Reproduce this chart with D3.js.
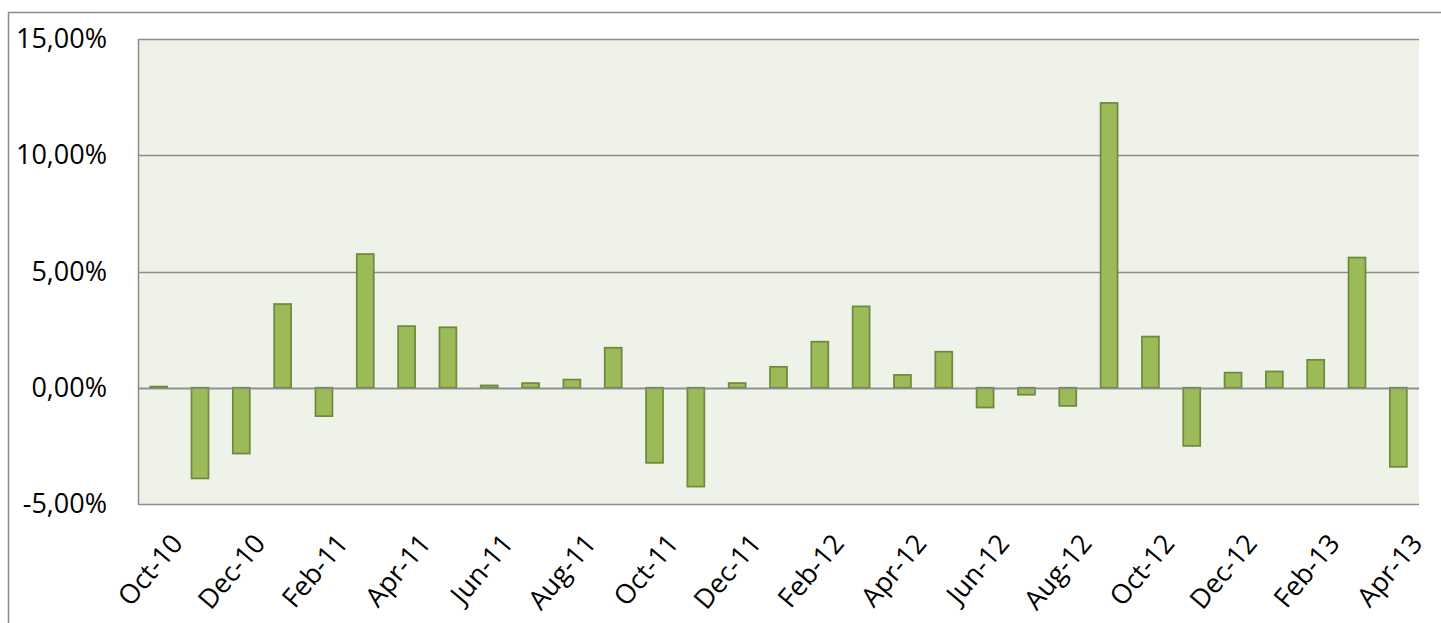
<!DOCTYPE html>
<html>
<head>
<meta charset="utf-8">
<script src="https://cdn.jsdelivr.net/npm/d3@7"></script>
<style>
  body { margin: 0; background: #fff; }
  text { font-family: "Open Sans", "Liberation Sans", sans-serif; fill: #000; }
</style>
</head>
<body>
<svg id="chartSVG"></svg>
<script>
// monthly returns, Oct-10 .. Apr-13
let months = ['Oct-10','Nov-10','Dec-10','Jan-11','Feb-11','Mar-11','Apr-11','May-11','Jun-11','Jul-11',
              'Aug-11','Sep-11','Oct-11','Nov-11','Dec-11','Jan-12','Feb-12','Mar-12','Apr-12','May-12',
              'Jun-12','Jul-12','Aug-12','Sep-12','Oct-12','Nov-12','Dec-12','Jan-13','Feb-13','Mar-13','Apr-13'];
let returns = [0.05, -3.9, -2.83, 3.6, -1.22, 5.75, 2.65, 2.6, 0.1, 0.2,
               0.35, 1.72, -3.23, -4.25, 0.2, 0.9, 1.98, 3.5, 0.55, 1.55,
               -0.85, -0.3, -0.78, 12.25, 2.2, -2.5, 0.65, 0.7, 1.2, 5.6, -3.4];
let yTicks = [-5, 0, 5, 10, 15];

let widthSVG = 1441;
let heightSVG = 623;
let margins = { top: 39, bottom: 119, right: 22, left: 138 };
let width = widthSVG - margins.left - margins.right;
let height = heightSVG - margins.top - margins.bottom;

let SVG = d3.select('svg#chartSVG')
            .attr('width', widthSVG)
            .attr('height', heightSVG);

// outer chart frame
SVG.append('rect')
   .attr('x', 8.5).attr('y', 12.5)
   .attr('width', 1460).attr('height', 700)
   .style('fill', 'none')
   .style('stroke', '#8c8c8c')
   .style('stroke-width', 1.5);

let SVGG = SVG.append('g')
              .attr('transform', `translate(${margins.left}, ${margins.top})`);

let x = d3.scaleBand().domain(months).range([0, width]).paddingInner(0.59).paddingOuter(0.295);
let y = d3.scaleLinear().domain([-5, 15]).range([height, 0]);

// plot background
SVGG.append('rect')
    .attr('width', width).attr('height', height)
    .style('fill', '#eff2e9');

// gridlines
SVGG.append('g')
    .selectAll('line')
    .data(yTicks)
    .enter()
    .append('line')
    .attr('x1', 0).attr('x2', width)
    .attr('y1', d => Math.round(y(d)) + 0.5)
    .attr('y2', d => Math.round(y(d)) + 0.5)
    .style('stroke', '#8c8c8c')
    .style('stroke-width', 1.5);

// left edge of plot
SVGG.append('line')
    .attr('x1', 0.5).attr('x2', 0.5)
    .attr('y1', 0).attr('y2', height)
    .style('stroke', '#8c8c8c')
    .style('stroke-width', 1.5);

// bars
SVGG.selectAll('rect.bar')
    .data(returns)
    .enter()
    .append('rect')
    .classed('bar', true)
    .attr('x', (d, i) => x(months[i]))
    .attr('width', x.bandwidth())
    .attr('y', d => y(Math.max(0, d)))
    .attr('height', d => Math.abs(y(d) - y(0)))
    .style('fill', '#9bbb59')
    .style('stroke', '#71893f')
    .style('stroke-width', 1.75);

// zero line on top of bars
SVGG.append('line')
    .attr('x1', 0).attr('x2', width)
    .attr('y1', Math.round(y(0)) + 0.5).attr('y2', Math.round(y(0)) + 0.5)
    .style('stroke', '#8c8c8c')
    .style('stroke-width', 1.5);

// y labels
let yAxis = d3.axisLeft(y)
  .tickValues(yTicks)
  .tickSize(0)
  .tickPadding(31)
  .tickFormat(d => d3.format('.2f')(d).replace('.', ',').replace('\u2212', '-') + '%');

let yG = SVGG.append('g').call(yAxis);
yG.select('.domain').remove();
yG.selectAll('text')
  .style('font-size', '27px')
  .style('font-family', '"Open Sans", "Liberation Sans", sans-serif');

// x labels, every second month, rotated
SVGG.append('g')
    .selectAll('text')
    .data(months.filter((d, i) => i % 2 == 0))
    .enter()
    .append('text')
    .text(d => d)
    .attr('transform', d => `translate(${x(d) + x.bandwidth() / 2 + 11}, ${height + 28}) rotate(-50)`)
    .style('text-anchor', 'end')
    .attr('dy', '0.7em')
    .style('font-size', '27px');
</script>
</body>
</html>
